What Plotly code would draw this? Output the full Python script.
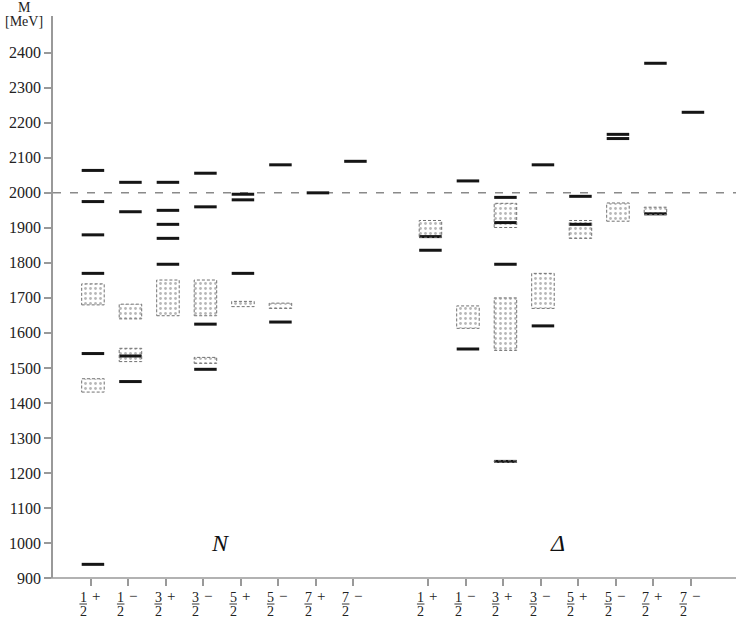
import plotly.graph_objects as go

# numeradores e paridades dos rótulos J^P (todos sobre 2)
J_NUM = ['1', '1', '3', '3', '5', '5', '7', '7']
PARIDADE = ['+', '−', '+', '−', '+', '−', '+', '−']

# previsões do modelo (traços pretos), por coluna J^P
N_TEORIA = [
    [939, 1541, 1770, 1880, 1975, 2064],
    [1461, 1534, 1946, 2030],
    [1796, 1870, 1910, 1950, 2030],
    [1496, 1625, 1960, 2056],
    [1770, 1980, 1996],
    [1631, 2080],
    [2000],
    [2090],
]
DELTA_TEORIA = [
    [1836, 1875],
    [1554, 2034],
    [1233, 1796, 1915, 1987],
    [1620, 2080],
    [1910, 1990],
    [2155, 2167],
    [1940, 2370],
    [2230],
]

# faixas experimentais (caixas pontilhadas): (min, max)
N_EXP = [
    [(1431, 1469), (1680, 1740)],
    [(1518, 1556), (1640, 1682)],
    [(1649, 1751)],
    [(1513, 1530), (1649, 1751)],
    [(1675, 1690)],
    [(1670, 1685)],
    [],
    [],
]
DELTA_EXP = [
    [(1873, 1921)],
    [(1613, 1677)],
    [(1230, 1235), (1550, 1700), (1901, 1970)],
    [(1670, 1770)],
    [(1870, 1921)],
    [(1919, 1971)],
    [(1938, 1959)],
    [],
]

Y_TICKS = list(range(900, 2401, 100))
LIMIAR = 2000

FONTE = 'Liberation Serif, DejaVu Serif, serif'
CINZA = '#999999'
DESLOC = 0.06   # os traços ficam um pouco à direita do tick
MEIA = 0.3      # meia largura dos traços/caixas

pos_n = list(range(8))
pos_d = [9 + i for i in range(8)]

fig = go.Figure()

# caixas experimentais como barras com hachura pontilhada
bx, bbase, bh = [], [], []
for posicoes, faixas in ((pos_n, N_EXP), (pos_d, DELTA_EXP)):
    for p, lista in zip(posicoes, faixas):
        for lo, hi in lista:
            bx.append(p + DESLOC)
            bbase.append(lo)
            bh.append(hi - lo)
fig.add_trace(go.Bar(
    x=bx, y=bh, base=bbase, width=2 * MEIA,
    marker=dict(color='white', line=dict(width=0),
                pattern=dict(shape='.', fgcolor='#6f6f6f', bgcolor='white',
                             size=5, solidity=0.25)),
    showlegend=False, hoverinfo='skip',
))

# contorno tracejado das caixas
for x, lo, h in zip(bx, bbase, bh):
    fig.add_shape(type='rect', xref='x', yref='y',
                  x0=x - MEIA, x1=x + MEIA, y0=lo, y1=lo + h,
                  line=dict(color='#707070', width=1, dash='3px,2px'),
                  fillcolor='rgba(0,0,0,0)', layer='above')

# traços das previsões
lx, ly = [], []
for posicoes, teoria in ((pos_n, N_TEORIA), (pos_d, DELTA_TEORIA)):
    for p, massas in zip(posicoes, teoria):
        for m in massas:
            lx += [p + DESLOC - MEIA, p + DESLOC + MEIA, None]
            ly += [m, m, None]
fig.add_trace(go.Scatter(x=lx, y=ly, mode='lines',
                         line=dict(color='#151515', width=3),
                         showlegend=False, hoverinfo='skip'))

# linha tracejada em 2000 MeV
fig.add_shape(type='line', xref='paper', yref='y', x0=0, x1=1,
              y0=LIMIAR, y1=LIMIAR, layer='below',
              line=dict(color='#8a8a8a', width=1.5, dash='8px,9px'))

# eixo x desenhado à mão (passa um pouco à esquerda do eixo y)
fig.add_shape(type='line', xref='paper', yref='paper', x0=-0.012, x1=1,
              y0=0, y1=0, line=dict(color=CINZA, width=1.5))

# rótulos J^P em forma de fração
ALT = 562
for p, num, par in zip(pos_n + pos_d, J_NUM * 2, PARIDADE * 2):
    xf = p - 0.2
    fig.add_annotation(x=xf, xref='x', y=0, yref='paper', yanchor='middle',
                       yshift=-19.5, text=num, showarrow=False,
                       font=dict(family=FONTE, size=14, color='#222'))
    fig.add_annotation(x=xf, xref='x', y=0, yref='paper', yanchor='middle',
                       yshift=-33, text='2', showarrow=False,
                       font=dict(family=FONTE, size=14, color='#222'))
    fig.add_annotation(x=p + 0.13, xref='x', y=0, yref='paper', yanchor='middle',
                       yshift=-18, text=par, showarrow=False,
                       font=dict(family=FONTE, size=15, color='#222'))
    fig.add_shape(type='line', xref='x', yref='paper',
                  x0=xf - 0.1, x1=xf + 0.1, y0=-26 / ALT, y1=-26 / ALT,
                  line=dict(color='#333', width=1))

# nomes dos multipletos
fig.add_annotation(x=3.45, y=1000, text='<i>N</i>', showarrow=False,
                   font=dict(family=FONTE, size=24, color='#111'))
fig.add_annotation(x=12.46, y=1000, text='<i>Δ</i>', showarrow=False,
                   font=dict(family=FONTE, size=24, color='#111'))

# título do eixo y
fig.add_annotation(xref='paper', yref='paper', x=0, y=1, xshift=-29, yshift=9,
                   xanchor='center', yanchor='middle', borderpad=0,
                   text='M', showarrow=False,
                   font=dict(family=FONTE, size=14, color='#222'))
fig.add_annotation(xref='paper', yref='paper', x=0, y=1, xshift=-29, yshift=-5,
                   xanchor='center', yanchor='middle', borderpad=0,
                   text='[MeV]', showarrow=False,
                   font=dict(family=FONTE, size=14, color='#222'))

fig.update_layout(
    width=736, height=621,
    margin=dict(l=53, r=0, t=16, b=43),
    paper_bgcolor='white', plot_bgcolor='white',
    barmode='overlay', showlegend=False,
    font=dict(family=FONTE, size=16, color='#222'),
    xaxis=dict(range=[-1.005, 17.208], tickvals=pos_n + pos_d,
               showticklabels=False, ticks='outside', ticklen=7,
               tickwidth=1.5, tickcolor=CINZA, showgrid=False,
               zeroline=False, showline=False, automargin=False),
    yaxis=dict(range=[900, 2505], tickvals=Y_TICKS,
               ticktext=[str(v) for v in Y_TICKS], ticks='outside',
               ticklen=7, tickwidth=1.5, tickcolor=CINZA, showline=True,
               linecolor=CINZA, linewidth=1.5, showgrid=False,
               zeroline=False, automargin=False,
               tickfont=dict(family=FONTE, size=16)),
)

# tira a margem padrão do <body> para a figura ocupar a janela toda
fig.write_html("out.html", config={'displayModeBar': False},
               post_script="document.body.style.margin='0';")
